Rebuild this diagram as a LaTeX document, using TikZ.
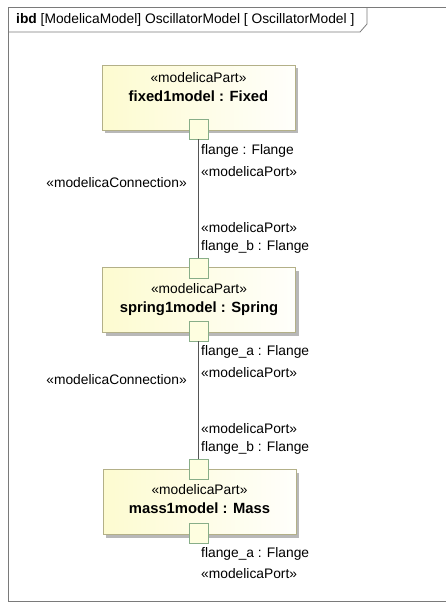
\documentclass[tikz,border=0pt]{standalone}
\usepackage{fontspec}
\setmainfont{Liberation Sans}
\usepackage{tikz}
\usetikzlibrary{shadows}

\definecolor{partfill}{HTML}{FDFBD0}
\definecolor{partline}{HTML}{B3B088}
\definecolor{portfill}{HTML}{FEFEE0}
\definecolor{portline}{HTML}{88AE88}
\definecolor{wiregray}{HTML}{555555}
\definecolor{framegray}{HTML}{7A7A7A}

\newcommand{\blockname}[1]{{\fontsize{14.8}{19}\selectfont\textbf{#1}}}

\begin{document}
\begin{tikzpicture}[x=1pt,y=-1pt,
    every node/.style={font=\fontsize{13.8}{19}\selectfont,inner sep=0pt},
    partbox/.style={rectangle,draw=partline,thick,minimum width=193pt,minimum height=65pt,
      left color=partfill,right color=white!92!partfill,
      drop shadow={shadow xshift=3pt,shadow yshift=-3pt,fill=black!35,opacity=0.8}},
    portbox/.style={rectangle,draw=portline,thick,fill=portfill,minimum width=19pt,minimum height=20pt},
    wire/.style={draw=wiregray,thick}]

  \useasboundingbox (0,0) rectangle (446,608);

  % frame and heading
  \draw[framegray,thick] (446,7) -- (8,7) -- (8,601) -- (446,601);
  \draw[framegray,thick] (8,32) -- (360,32) -- (367,24) -- (367,7);
  \node[anchor=west] (title) at (16,20) {\textbf{ibd} [ModelicaModel] OscillatorModel [ OscillatorModel ]};

  % parts
  \begin{scope}[every node/.append style={align=center}]
    \node[partbox] (fixed1) at (198.5,97.5) {};
    \node[anchor=north] (fixed1text) at (198.5,72) {«modelicaPart»\\\blockname{fixed1model : Fixed}};

    \node[partbox] (spring1) at (199,300) {};
    \node[anchor=north] (spring1text) at (199,283) {«modelicaPart»\\\blockname{spring1model : Spring}};

    \node[partbox] (mass1) at (199.5,502) {};
    \node[anchor=north] (mass1text) at (199.5,484) {«modelicaPart»\\\blockname{mass1model : Mass}};
  \end{scope}

  % ports
  \begin{scope}[every node/.append style={portbox}]
    \node (fixed1flange) at (198.5,129) {};
    \node (spring1flangeb) at (198.5,268) {};
    \node (spring1flangea) at (198.5,331) {};
    \node (mass1flangeb) at (198.5,469) {};
    \node (mass1flangea) at (198.5,533) {};
  \end{scope}

  % connections
  \path[wire] (fixed1flange) -- (spring1flangeb);
  \path[wire] (spring1flangea) -- (mass1flangeb);

  % port and connection labels
  \begin{scope}[every node/.append style={anchor=west}]
    \node (fixed1flangename) at (201,151) {flange : Flange};
    \node (fixed1flangest) at (201,172) {«modelicaPort»};
    \node (spring1flangebst) at (201,228) {«modelicaPort»};
    \node (spring1flangebname) at (201,247) {flange\_b : Flange};
    \node (spring1flangeaname) at (201,352) {flange\_a : Flange};
    \node (spring1flangeast) at (201,373) {«modelicaPort»};
    \node (mass1flangebst) at (201,429) {«modelicaPort»};
    \node (mass1flangebname) at (201,448) {flange\_b : Flange};
    \node (mass1flangeaname) at (201,554) {flange\_a : Flange};
    \node (mass1flangeast) at (201,574) {«modelicaPort»};
  \end{scope}
  \node[anchor=east] (conn1) at (187,183) {«modelicaConnection»};
  \node[anchor=east] (conn2) at (187,380) {«modelicaConnection»};

\end{tikzpicture}
\end{document}
